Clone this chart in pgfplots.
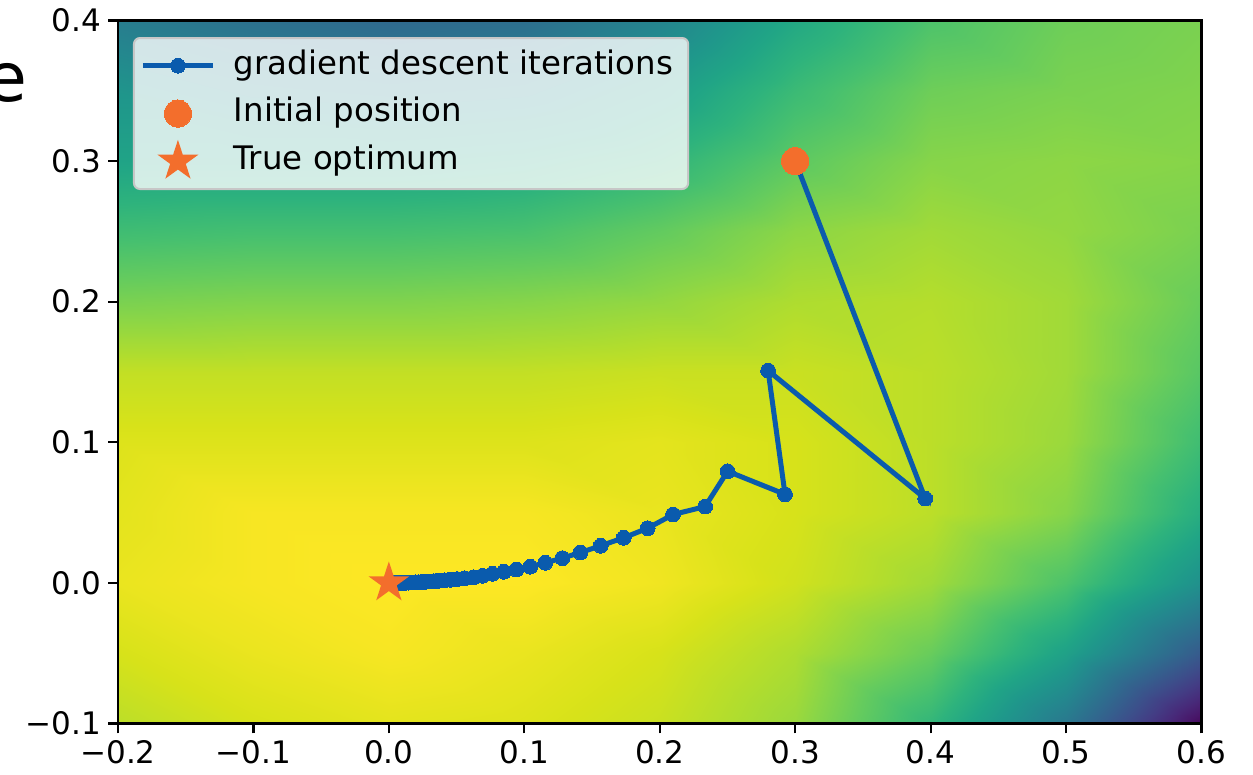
\documentclass[border=0pt]{standalone}
\usepackage{fontspec}
\setmainfont{DejaVu Sans}
\usepackage{pgfplots}
\pgfplotsset{compat=1.18}
\definecolor{gdblue}{HTML}{0A5BAD}
\definecolor{optorange}{HTML}{F36E2C}
\pgfdeclareplotmark{fstar}{%
  \pgfpathmoveto{\pgfpointpolar{90}{\pgfplotmarksize}}%
  \pgfpathlineto{\pgfpointpolar{126}{0.382*\pgfplotmarksize}}%
  \pgfpathlineto{\pgfpointpolar{162}{\pgfplotmarksize}}%
  \pgfpathlineto{\pgfpointpolar{198}{0.382*\pgfplotmarksize}}%
  \pgfpathlineto{\pgfpointpolar{234}{\pgfplotmarksize}}%
  \pgfpathlineto{\pgfpointpolar{270}{0.382*\pgfplotmarksize}}%
  \pgfpathlineto{\pgfpointpolar{306}{\pgfplotmarksize}}%
  \pgfpathlineto{\pgfpointpolar{342}{0.382*\pgfplotmarksize}}%
  \pgfpathlineto{\pgfpointpolar{18}{\pgfplotmarksize}}%
  \pgfpathlineto{\pgfpointpolar{54}{0.382*\pgfplotmarksize}}%
  \pgfpathclose\pgfusepathqfill}
\begin{document}
\begin{tikzpicture}
\useasboundingbox (-59pt,-25.75pt) rectangle (567.5pt,361.75pt);
\begin{axis}[
  at={(0pt,0pt)}, anchor=south west,
  scale only axis, width=541.75pt, height=351.5pt,
  xmin=-0.2, xmax=0.6, ymin=-0.1, ymax=0.4,
  xtick={-0.2,-0.1,0,0.1,0.2,0.3,0.4,0.5,0.6},
  xticklabels={−0.2,−0.1,0.0,0.1,0.2,0.3,0.4,0.5,0.6},
  ytick={-0.1,0,0.1,0.2,0.3,0.4},
  yticklabels={−0.1,0.0,0.1,0.2,0.3,0.4},
  tick align=outside, xtick pos=bottom, ytick pos=left,
  major tick length=4.9pt,
  every tick/.style={black, line width=1.1pt},
  axis line style={line width=1.1pt},
  tick label style={font=\fontsize{15.5}{18}\selectfont},
  colormap/viridis, point meta min=0, point meta max=1,
  axis on top,
  legend cell align=left,
  legend image code/.code={\draw[mark repeat=2,mark phase=2,opacity=1,overlay] plot coordinates {(0pt,0pt) (17.5pt,0pt) (35pt,0pt)};
    \path[draw=none,fill=none] (-1.5pt,-4pt) rectangle (35pt,4pt);},
  legend style={at={(0.0138,0.9765)}, anchor=north west,
    fill=white, fill opacity=0.8, text opacity=1, draw=black!22,
    line width=1pt, rounded corners=3pt,
    inner xsep=3pt, inner ysep=6.5pt, row sep=9.2pt, column sep=6pt,
    font=\fontsize{16.2}{19}\selectfont,
    nodes={text height=11.5pt, text depth=3.2pt, inner ysep=0pt, inner xsep=4.5pt}},
]
\addplot[surf, shader=interp, mesh/cols=9, mesh/ordering=x varies, point meta=explicit, forget plot]
table[meta=z] {
x y z
-0.2 -0.10 0.90
-0.1 -0.10 0.94
0.0 -0.10 0.96
0.1 -0.10 0.95
0.2 -0.10 0.92
0.3 -0.10 0.85
0.4 -0.10 0.66
0.5 -0.10 0.40
0.6 -0.10 0.02
-0.2 -0.05 0.94
-0.1 -0.05 0.97
0.0 -0.05 0.99
0.1 -0.05 0.97
0.2 -0.05 0.94
0.3 -0.05 0.88
0.4 -0.05 0.77
0.5 -0.05 0.57
0.6 -0.05 0.28
-0.2 0.00 0.97
-0.1 0.00 0.99
0.0 0.00 1.00
0.1 0.00 1.00
0.2 0.00 0.98
0.3 0.00 0.93
0.4 0.00 0.86
0.5 0.00 0.72
0.6 0.00 0.50
-0.2 0.05 0.96
-0.1 0.05 0.99
0.0 0.05 0.99
0.1 0.05 0.99
0.2 0.05 0.97
0.3 0.05 0.94
0.4 0.05 0.90
0.5 0.05 0.82
0.6 0.05 0.62
-0.2 0.10 0.95
-0.1 0.10 0.95
0.0 0.10 0.95
0.1 0.10 0.95
0.2 0.10 0.96
0.3 0.10 0.94
0.4 0.10 0.90
0.5 0.10 0.85
0.6 0.10 0.69
-0.2 0.15 0.91
-0.1 0.15 0.91
0.0 0.15 0.91
0.1 0.15 0.91
0.2 0.15 0.92
0.3 0.15 0.92
0.4 0.15 0.90
0.5 0.15 0.86
0.6 0.15 0.74
-0.2 0.20 0.80
-0.1 0.20 0.81
0.0 0.20 0.81
0.1 0.20 0.82
0.2 0.20 0.84
0.3 0.20 0.88
0.4 0.20 0.89
0.5 0.20 0.86
0.6 0.20 0.77
-0.2 0.25 0.69
-0.1 0.25 0.70
0.0 0.25 0.70
0.1 0.25 0.71
0.2 0.25 0.76
0.3 0.25 0.83
0.4 0.25 0.86
0.5 0.25 0.84
0.6 0.25 0.80
-0.2 0.30 0.58
-0.1 0.30 0.58
0.0 0.30 0.58
0.1 0.30 0.60
0.2 0.30 0.65
0.3 0.30 0.75
0.4 0.30 0.82
0.5 0.30 0.83
0.6 0.30 0.82
-0.2 0.35 0.52
-0.1 0.35 0.47
0.0 0.35 0.45
0.1 0.35 0.47
0.2 0.35 0.55
0.3 0.35 0.68
0.4 0.35 0.78
0.5 0.35 0.80
0.6 0.35 0.81
-0.2 0.40 0.42
-0.1 0.40 0.37
0.0 0.40 0.34
0.1 0.40 0.36
0.2 0.40 0.45
0.3 0.40 0.60
0.4 0.40 0.72
0.5 0.40 0.78
0.6 0.40 0.80
};
\addplot[gdblue, line width=2.5pt, mark=*, mark size=3.7pt, mark options={fill=gdblue, draw=gdblue, line width=0pt}]
coordinates {
(0.300,0.300) (0.396,0.060) (0.280,0.151) (0.2925,0.063) (0.2501,0.0794)
(0.2335,0.0543) (0.2098,0.0486) (0.1911,0.0389) (0.1734,0.0321) (0.1564,0.0264)
(0.1414,0.0216) (0.1281,0.0176) (0.1155,0.0143) (0.1044,0.0115) (0.0941,0.0095)
(0.0849,0.0079) (0.0765,0.0065) (0.0691,0.0050) (0.0625,0.0040) (0.0560,0.0033)
(0.0505,0.0027) (0.0455,0.0022) (0.0410,0.0018) (0.0369,0.0015) (0.0332,0.0012)
(0.0299,0.0010) (0.0269,0.0008) (0.0242,0.0006) (0.0218,0.0005) (0.0196,0.0004)
(0.0176,0.0003) (0.0158,0.0003) (0.0142,0.0002) (0.0128,0.0002) (0.0115,0.0001)
(0.0100,0.0001) (0.0085,0.0001) (0.0070,0.0) (0.0055,0.0) (0.0040,0.0)
(0.0025,0.0) (0.0010,0.0) (0.0,0.0)
};
\addlegendentry{gradient descent iterations}
\addplot[optorange, only marks, mark=*, mark size=6.8pt, mark options={fill=optorange, draw=optorange, line width=0pt}]
coordinates {(0.3,0.3)};
\addlegendentry{Initial position}
\addplot[optorange, only marks, mark=fstar, mark size=10.75pt, mark options={fill=optorange, draw=none}]
coordinates {(0,0)};
\addlegendentry{True optimum}
\end{axis}
\node[anchor=base east, inner sep=0pt, font=\fontsize{34}{40}\selectfont] at (-45.2pt,310.9pt) {e};
\end{tikzpicture}
\end{document}
